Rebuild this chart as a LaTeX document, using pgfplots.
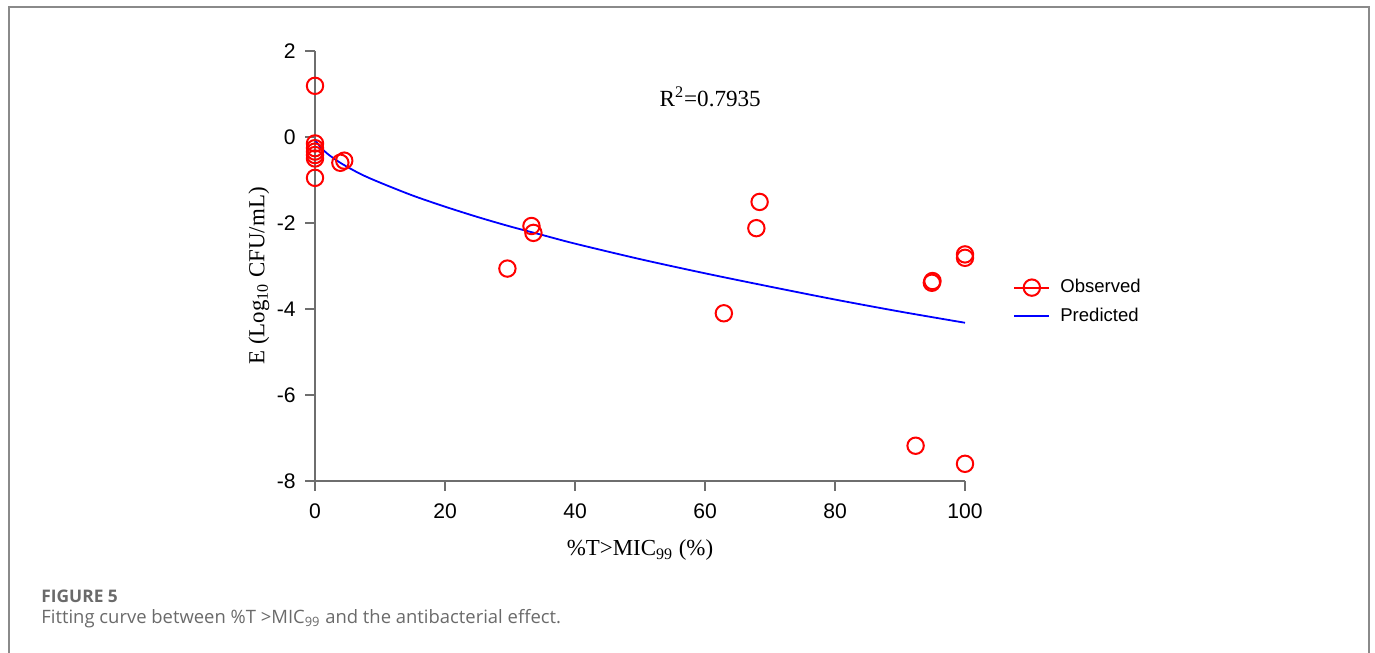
\documentclass[border=0pt]{standalone}
\usepackage{pgfplots}
\pgfplotsset{compat=1.18}
\usepackage{fontspec}
\setmainfont{Liberation Sans}
\newfontfamily\timesf{Liberation Serif}
\newfontfamily\capf{Open Sans}
\definecolor{framegray}{HTML}{8A8A8A}
\definecolor{capgray}{HTML}{6A6A6A}
\definecolor{axgray}{HTML}{6E6E6E}
\begin{document}
\begin{tikzpicture}
\useasboundingbox (0,0) rectangle (687.5bp,326.5bp);
\draw[framegray, line width=0.8bp] (4.4bp,0) -- (4.4bp,323bp) -- (684.5bp,323bp) -- (684.5bp,0);
\begin{axis}[
  at={(157.5bp,86bp)}, anchor=south west,
  scale only axis, width=325bp, height=215bp,
  xmin=0, xmax=100, ymin=-8, ymax=2,
  axis lines*=left,
  axis line style={axgray, line width=0.8bp},
  clip=false,
  xtick={0,20,40,60,80,100},
  ytick={-8,-6,-4,-2,0,2},
  yticklabels={-8,-6,-4,-2,0,2},
  xticklabels={0,20,40,60,80,100},
  tick align=outside,
  major tick length=5bp,
  tick style={axgray, line width=0.8bp},
  ticklabel style={font=\fontsize{10.6}{12}\selectfont, black},
  xticklabel style={yshift=-3bp},
  yticklabel style={xshift=-1.2bp},
  xlabel={\timesf\fontsize{11.5}{13}\selectfont \%T>MIC\textsubscript{99} (\%)},
  xlabel style={at={(axis description cs:0.5,0)}, anchor=base, yshift=-37.5bp},
  ylabel={\timesf\fontsize{11.5}{13}\selectfont E (Log\textsubscript{10} CFU/mL)},
  ylabel style={at={(axis description cs:-0.0865,0.477)}, anchor=center},
  legend style={draw=none, fill=none, at={(1.0738,0.472)}, anchor=north west,
    font=\fontsize{9.3}{11}\selectfont, inner sep=0pt, row sep=5.6bp,
    nodes={inner sep=0pt}},
  legend cell align=left,
]
\addplot[only marks, mark=o, mark size=4.1bp, red, mark options={line width=1bp},
  legend image code/.code={
    \path[draw=none, fill=none] (0bp,0bp) -- (23bp,0bp);
    \draw[red, line width=1bp] (0bp,0bp) -- (17.5bp,0bp);
    \draw[red, line width=1bp] (8.75bp,0bp) circle (4.1bp);}]
coordinates {
(0,1.19) (0,-0.15) (0,-0.26) (0,-0.34) (0,-0.42) (0,-0.50) (0,-0.95)
(3.9,-0.60) (4.5,-0.55)
(29.6,-3.06) (33.3,-2.07) (33.6,-2.23)
(62.9,-4.10) (67.9,-2.12) (68.4,-1.51)
(92.4,-7.18) (94.9,-3.39) (95.0,-3.35)
(100,-2.73) (100,-2.81) (100,-7.60)
};
\addlegendentry{Observed}
\addplot[blue, line width=0.9bp, no marks, smooth,
  legend image code/.code={
    \path[draw=none, fill=none] (0bp,0bp) -- (23bp,0bp);
    \draw[blue, line width=0.9bp] (0bp,0bp) -- (17.5bp,0bp);}]
coordinates {
(0,-0.05) (0.3,-0.13) (1,-0.26) (2,-0.40) (4,-0.61) (7,-0.86) (10,-1.06)
(15,-1.36) (20,-1.62) (25,-1.86) (30,-2.08) (35,-2.28) (40,-2.48)
(50,-2.84) (60,-3.17) (70,-3.48) (80,-3.78) (90,-4.06) (100,-4.32)
};
\addlegendentry{Predicted}
\node[font=\timesf\fontsize{11.6}{13}\selectfont] at (axis cs:60.8,0.93) {R\textsuperscript{2}=0.7935};
\end{axis}
\node[anchor=base west, font=\capf\bfseries\fontsize{8.7}{10}\selectfont, text=capgray, inner sep=0pt] at (20.5bp,25.5bp) {FIGURE 5};
\node[anchor=base west, font=\capf\fontsize{9.25}{11}\selectfont, text=capgray, inner sep=0pt] at (20.5bp,15bp) {Fitting curve between \%T >MIC\textsubscript{99} and the antibacterial effect.};
\end{tikzpicture}
\end{document}
